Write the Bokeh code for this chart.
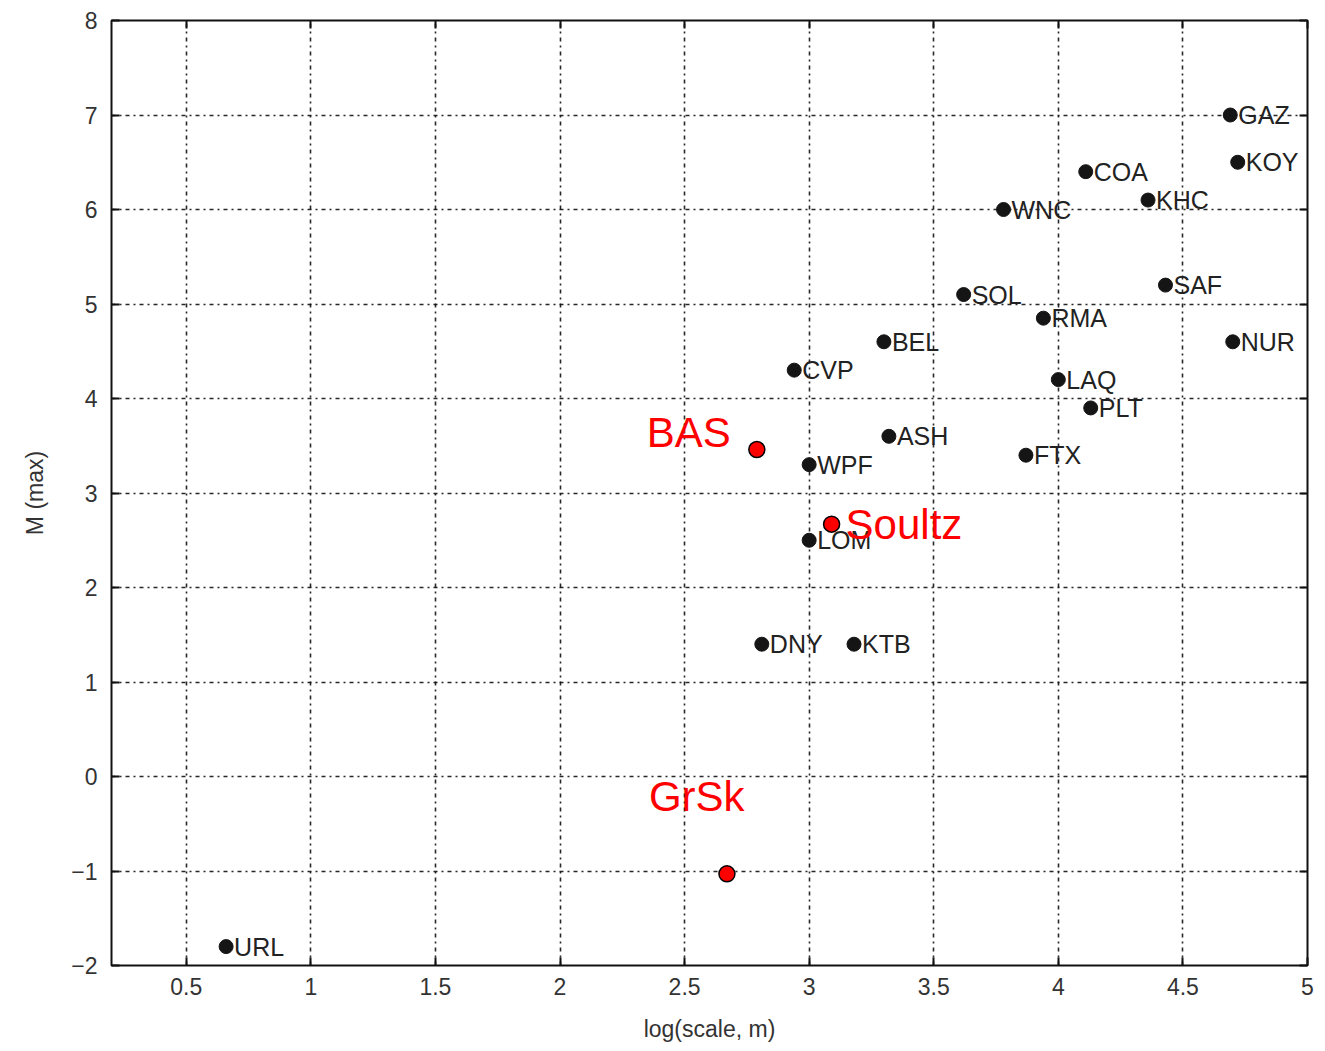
from bokeh.plotting import figure
from bokeh.models import FixedTicker, LinearAxis, ColumnDataSource
from bokeh.core.properties import value
from bokeh.embed import file_html
from bokeh.resources import INLINE

# ---- data ----
names = ["GAZ", "KOY", "COA", "KHC", "WNC", "SAF", "SOL", "RMA", "BEL", "NUR",
         "CVP", "LAQ", "PLT", "ASH", "FTX", "WPF", "LOM", "DNY", "KTB", "URL"]
log_scale = [4.69, 4.72, 4.11, 4.36, 3.78, 4.43, 3.62, 3.94, 3.30, 4.70,
             2.94, 4.00, 4.13, 3.32, 3.87, 3.00, 3.00, 2.81, 3.18, 0.66]
m_max = [7.0, 6.5, 6.4, 6.1, 6.0, 5.2, 5.1, 4.85, 4.6, 4.6,
         4.3, 4.2, 3.9, 3.6, 3.4, 3.3, 2.5, 1.4, 1.4, -1.8]

sites = ["BAS", "Soultz", "GrSk"]
site_log_scale = [2.79, 3.09, 2.67]
site_m_max = [3.46, 2.67, -1.03]

x_ticks = [0.5, 1, 1.5, 2, 2.5, 3, 3.5, 4, 4.5, 5]
x_tick_labels = ["0.5", "1", "1.5", "2", "2.5", "3", "3.5", "4", "4.5", "5"]
y_ticks = [-2, -1, 0, 1, 2, 3, 4, 5, 6, 7, 8]
y_tick_labels = ["\u22122", "\u22121", "0", "1", "2", "3", "4", "5", "6", "7", "8"]

FONT = "Liberation Sans"

p = figure(width=1325, height=1051, x_range=(0.2, 5), y_range=(-2, 8),
           output_backend="svg", toolbar_location=None,
           min_border_left=111, min_border_right=18,
           min_border_top=20, min_border_bottom=86)

p.outline_line_color = "#111111"
p.outline_line_width = 2
p.background_fill_color = "white"
p.border_fill_color = "white"

for ax in (p.xaxis[0], p.yaxis[0]):
    ax.axis_line_color = None
    ax.major_tick_in = 8
    ax.major_tick_out = 0
    ax.major_tick_line_color = "#111111"
    ax.major_tick_line_width = 2
    ax.minor_tick_line_color = None
    ax.major_label_text_font = FONT
    ax.major_label_text_font_size = "23px"
    ax.major_label_text_color = "#333333"
    ax.axis_label_text_font = FONT
    ax.axis_label_text_font_size = "23px"
    ax.axis_label_text_font_style = "normal"
    ax.axis_label_text_color = "#333333"

p.xaxis[0].ticker = FixedTicker(ticks=x_ticks)
p.yaxis[0].ticker = FixedTicker(ticks=y_ticks)
p.xaxis[0].major_label_overrides = dict(zip(x_ticks, x_tick_labels))
p.yaxis[0].major_label_overrides = dict(zip(y_ticks, y_tick_labels))
p.xaxis[0].major_label_standoff = 12
p.yaxis[0].major_label_standoff = 14
p.xaxis[0].axis_label = "log(scale, m)"
p.xaxis[0].axis_label_standoff = 18
p.yaxis[0].axis_label = "M (max)"
p.yaxis[0].axis_label_standoff = 20

# top and right axes: inward ticks only, labels not painted
top = LinearAxis(ticker=FixedTicker(ticks=x_ticks), major_label_text_font_size="1px",
                 major_label_text_color=None,
                 major_label_standoff=0, axis_line_color=None, major_tick_in=8,
                 major_tick_out=0, major_tick_line_color="#111111",
                 major_tick_line_width=2, minor_tick_line_color=None)
right = LinearAxis(ticker=FixedTicker(ticks=y_ticks), major_label_text_font_size="1px",
                   major_label_text_color=None,
                   major_label_standoff=0, axis_line_color=None, major_tick_in=8,
                   major_tick_out=0, major_tick_line_color="#111111",
                   major_tick_line_width=2, minor_tick_line_color=None)
p.add_layout(top, "above")
p.add_layout(right, "right")

p.xgrid.ticker = FixedTicker(ticks=x_ticks)
p.ygrid.ticker = FixedTicker(ticks=y_ticks)
for g in (p.xgrid[0], p.ygrid[0]):
    g.grid_line_color = "#111111"
    g.grid_line_width = 1.6
    g.grid_line_dash = "4 4 2 4"
    g.grid_line_alpha = 0.9

src = ColumnDataSource(dict(x=log_scale, y=m_max, name=names))
p.scatter("x", "y", source=src, size=14, fill_color="#151515",
          line_color="#151515")
p.text("x", "y", text="name", source=src, x_offset=8, text_baseline="middle",
       text_font=value(FONT), text_font_size="25px", text_color="#222222")

site_src = ColumnDataSource(dict(x=site_log_scale, y=site_m_max, name=sites))
p.scatter("x", "y", source=site_src, size=16, fill_color="#ff0000",
          line_color="black", line_width=1.5)

# red annotation labels (offsets in screen pixels)
label_align = ["right", "left", "left"]
label_baseline = ["alphabetic", "middle", "alphabetic"]
label_dx = [-26, 14, -78]
label_dy = [-17, 0, -77]
for i in range(len(sites)):
    p.text(x=[site_log_scale[i]], y=[site_m_max[i]], text=[sites[i]],
           x_offset=label_dx[i], y_offset=label_dy[i],
           text_align=label_align[i], text_baseline=label_baseline[i],
           text_font=value(FONT), text_font_size="42px", text_color="#ff0000")

open("out.html", "w").write(file_html(p, INLINE))
